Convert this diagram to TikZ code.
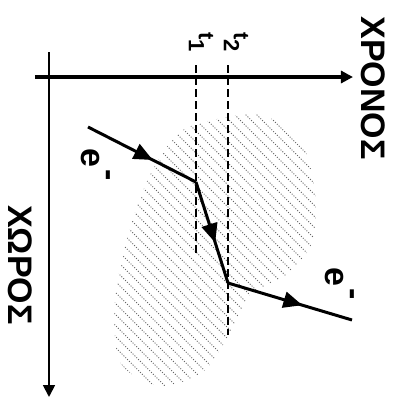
\documentclass[tikz,border=0pt]{standalone}
\usepackage{fontspec}
\setmainfont{Liberation Sans}
\usetikzlibrary{arrows.meta,decorations.markings}
\definecolor{ink}{HTML}{000000}
\definecolor{shade}{HTML}{666666}

\begin{document}
\begin{tikzpicture}[x=0.5pt,y=-0.5pt,
  axis/.style={draw=ink,-{Triangle[length=6pt,width=6pt]}},
  track/.style={draw=ink,line width=1.5pt,postaction=decorate,
    decoration={markings,mark=at position 0.6 with {\arrow{Triangle[length=9.5pt,width=8pt]}}}},
  tline/.style={draw=ink,line width=1.2pt,dash pattern=on 4pt off 2pt},
  hatch/.style={draw=shade,line width=0.45pt,dash pattern=on 0.5pt off 0.8pt},
  lbl/.style={rotate=-90,inner sep=0pt,text=ink,font=\bfseries},
]
  \useasboundingbox (0,0) rectangle (398,398);
  % hatched region
  \begin{scope}
    \clip plot[smooth cycle] coordinates {(262,115) (300,140) (315,190) (313,240)
      (290,272) (250,295) (234,325) (205,370) (160,386) (120,362) (115,300)
      (128,235) (150,175) (180,132) (222,118)};
    \foreach \d in {-220,-209,...,330}
      \draw[hatch] (\d,100) -- ++(300,300);
  \end{scope}
  % axes
  \coordinate (ox) at (35,77);
  \coordinate (tend) at (353,77);
  \coordinate (sy) at (49,52);
  \coordinate (send) at (49,397);
  \draw[axis,line width=1.6pt] (ox) -- (tend);
  \draw[axis,line width=0.9pt] (sy) -- (send);
  \node[lbl,font=\bfseries\fontsize{17}{18}\selectfont] (chronos) at (373,88) {ΧΡΟΝΟΣ};
  \node[lbl,font=\bfseries\fontsize{17}{18}\selectfont] (choros) at (20,265) {ΧΩΡΟΣ};
  % time slices
  \coordinate (t1top) at (196,65);
  \coordinate (t1bot) at (196,253);
  \coordinate (t2top) at (228,65);
  \coordinate (t2bot) at (228,335);
  \draw[tline] (t1top) -- (t1bot);
  \draw[tline] (t2top) -- (t2bot);
  \node[lbl,font=\bfseries\fontsize{11}{12}\selectfont] (t1) at (201,42) {t\raisebox{-5pt}{1}};
  \node[lbl,font=\bfseries\fontsize{11}{12}\selectfont] (t2) at (236,42) {t\raisebox{-5pt}{2}};
  % electron track
  \coordinate (ein) at (88,127);
  \coordinate (k1) at (196,182);
  \coordinate (k2) at (228,283);
  \coordinate (eout) at (352,320);
  \draw[track] (ein) -- (k1);
  \draw[track] (k1) -- (k2);
  \draw[track] (k2) -- (eout);
  \node[lbl,font=\bfseries\fontsize{17}{18}\selectfont] (ein-l) at (96,165) {e\raisebox{9pt}{\kern1pt-}};
  \node[lbl,font=\bfseries\fontsize{17}{18}\selectfont] (eout-l) at (340,284) {e\raisebox{9pt}{\kern1pt-}};
\end{tikzpicture}
\end{document}
